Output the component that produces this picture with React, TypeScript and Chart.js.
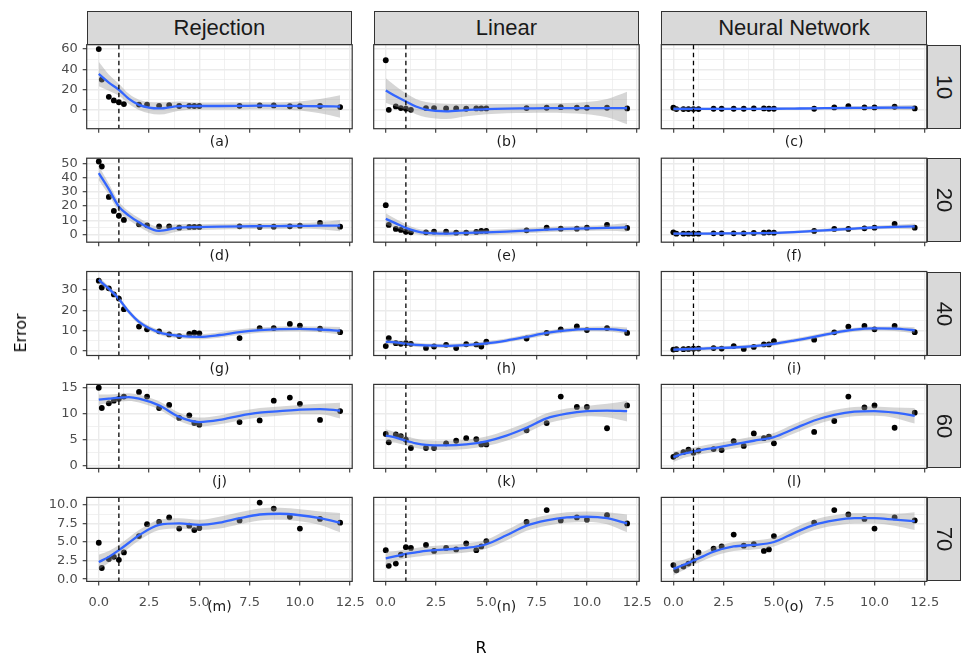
import React, { useEffect, useRef } from "react";
import { Chart, registerables } from "chart.js";
Chart.register(...registerables);

// ---------- data ----------
const columns = ["Rejection", "Linear", "Neural Network"];
const rowsLabels = ["10", "20", "40", "60", "70"];
const panelLetters = ["(a)", "(b)", "(c)", "(d)", "(e)", "(f)", "(g)", "(h)", "(i)", "(j)", "(k)", "(l)", "(m)", "(n)", "(o)"];

// R values of the observed points
const X = [0, 0.15, 0.5, 0.75, 1, 1.25, 2, 2.4, 3, 3.5, 4, 4.5, 4.75, 5, 7, 8, 8.7, 9.5, 10, 11, 12];
// R values where the smooth curve was read
const CX = [0, 0.5, 1, 1.5, 2, 3, 4, 5, 6, 7, 8, 9, 10, 11, 12];

// row 10
const yRej10 = [60, 30, 13, 9.5, 7.8, 5.9, 5.4, 5.3, 4.2, 4.9, 4, 4.2, 4, 4, 4.2, 4.6, 4.6, 3.8, 3.8, 4, 3];
const fitRej10 = [35.5, 27, 20, 11, 5.2, 1.6, 3.9, 4, 4, 4.1, 4.3, 4.2, 4, 3.8, 3.5];
const bandRej10 = [12, 8, 6, 5, 5, 6, 4.5, 3.5, 3.5, 3.5, 3.5, 3.5, 4.5, 7, 11];
const yLin10 = [49, 0.3, 3.6, 2, 1.3, 0.3, 2, 2, 1.6, 1.6, 1.3, 1.6, 1.6, 1.6, 2, 2.3, 2.9, 2.3, 2.3, 2.3, 1.6];
const fitLin10 = [19.2, 13.5, 8.5, 3.5, 0.5, -1.2, 0, 1, 1.5, 1.7, 1.9, 2, 2, 2, 2];
const bandLin10 = [12, 10, 8, 7.5, 7.5, 7.5, 6, 5, 4.5, 4.5, 4.5, 5, 6, 9, 16];
const yNN10 = [2.3, 1, 1, 1, 1, 1, 1.3, 1.3, 1.3, 1.3, 1.6, 1.6, 1.3, 1.3, 1.3, 2.6, 3.9, 2.6, 2.6, 3.3, 1.6];
const fitNN10 = [1.2, 1.2, 1.2, 1.2, 1.2, 1.2, 1.2, 1.3, 1.5, 1.7, 2, 2.2, 2.3, 2.4, 2.5];
const bandNN10 = [2, 1.5, 1.3, 1.2, 1.2, 1.2, 1.2, 1.2, 1.2, 1.3, 1.4, 1.5, 1.7, 2, 2.5];

// row 20
const yRej20 = [51.2, 47.7, 26.4, 16.6, 13.3, 10.3, 7.2, 6.5, 5.8, 5.8, 4.9, 5.4, 5.4, 5.4, 5.8, 5.4, 5.6, 5.8, 6.3, 8.2, 5.6];
const fitRej20 = [43, 31.8, 19.6, 13.3, 8.6, 2.6, 4.9, 5.3, 5.6, 5.8, 5.9, 6, 6.1, 6.3, 6.3];
const bandRej20 = [5, 4, 3.5, 3, 3, 3, 2.5, 2, 2, 2, 2, 2, 2, 2.5, 4];
const yLin20 = [20.6, 6.8, 4, 3.3, 2.1, 1.6, 1.6, 2.1, 2.1, 1.4, 1.4, 1.9, 2.6, 2.6, 3, 4.9, 4.2, 4.2, 4.9, 6.8, 4.7];
const fitLin20 = [11, 7.9, 4.7, 2.5, 1.2, 0.7, 1.2, 1.6, 2.1, 2.8, 3.5, 4, 4.4, 4.7, 5.1];
const bandLin20 = [4, 3, 2.5, 2, 2, 2, 1.8, 1.8, 1.8, 1.8, 1.8, 1.8, 1.8, 2, 3];
const yNN20 = [1.6, 0.7, 0.7, 0.7, 0.7, 0.7, 0.9, 0.9, 0.9, 0.9, 1.2, 1.4, 1.6, 1.4, 2.6, 4, 4, 4.4, 4.9, 7.5, 4.9];
const fitNN20 = [0.7, 0.7, 0.7, 0.7, 0.8, 0.9, 1, 1.2, 1.8, 2.6, 3.4, 4.2, 5, 5.4, 5.8];
const bandNN20 = [1.2, 1, 1, 1, 1, 1, 1, 1, 1, 1.1, 1.2, 1.2, 1.3, 1.5, 2];

// row 40
const yRej40 = [34.4, 31.1, 30.7, 27.7, 25.7, 20.5, 12, 10.7, 9.7, 8.2, 7.4, 8.4, 9, 8.7, 6.4, 11.3, 11.3, 13.3, 12.5, 11, 9.3];
const fitRej40 = [34.8, 30.5, 25.5, 19.2, 14.3, 9.2, 7.5, 7, 7.9, 9.3, 10.3, 10.8, 10.9, 10.6, 10];
const bandRej40 = [1.5, 1.2, 1.2, 1.2, 1.2, 1.2, 1.2, 1.2, 1.3, 1.4, 1.3, 1.3, 1.3, 1.4, 1.8];
const yLin40 = [2.5, 6.4, 3.9, 3.6, 3.9, 3.6, 1.6, 2.3, 3.1, 1.5, 3.4, 3.3, 2.3, 4.6, 6.2, 8.9, 10.7, 12.1, 10.3, 11.3, 8.9];
const fitLin40 = [4.6, 4.3, 3.6, 3.1, 2.8, 2.6, 3, 3.8, 5.2, 7, 8.9, 10.2, 10.8, 10.8, 10];
const bandLin40 = [1.3, 1.1, 1, 1, 1, 1, 1, 1, 1, 1.1, 1.1, 1.1, 1.1, 1.2, 1.6];
const yNN40 = [0.8, 1, 1, 1.1, 1.2, 1.3, 1.5, 1.3, 2.5, 1.1, 2.1, 3.3, 3.3, 4.9, 5.6, 9.2, 12, 12.3, 10.7, 12.3, 9.3];
const fitNN40 = [0.8, 0.95, 1.1, 1.3, 1.5, 1.8, 2.5, 3.6, 5.2, 7, 9, 10.5, 11.1, 11, 10.2];
const bandNN40 = [1, 0.9, 0.9, 0.9, 0.9, 0.9, 0.9, 0.9, 1, 1, 1, 1, 1, 1.1, 1.5];

// row 60
const yRej60 = [15, 11.1, 12, 12.5, 12.9, 13.3, 14.2, 13.3, 11.1, 11.7, 9.2, 9.7, 8.2, 7.9, 8.4, 8.7, 12.5, 13.1, 11.9, 8.8, 10.5];
const fitRej60 = [12.7, 12.9, 13.1, 13.2, 12.9, 11.6, 9.4, 8.4, 8.8, 9.6, 10.2, 10.5, 10.8, 10.9, 10.6];
const bandRej60 = [1, 0.8, 0.75, 0.75, 0.75, 0.8, 0.8, 0.85, 0.85, 0.9, 0.9, 0.9, 0.9, 1, 1.5];
const yLin60 = [6.1, 4.5, 6, 5.7, 5, 3.4, 3.4, 3.4, 4.3, 4.8, 5.3, 5.1, 4.1, 4.1, 6.8, 8.2, 13.3, 11.3, 11.3, 7.2, 11.6];
const fitLin60 = [5.8, 5.4, 4.8, 4.3, 4, 3.9, 4.1, 4.7, 5.8, 7.3, 9.1, 10, 10.5, 10.6, 10.5];
const bandLin60 = [1.2, 1, 0.9, 0.9, 0.9, 0.9, 0.9, 0.9, 1, 1, 1, 1, 1, 1.3, 2];
const yNN60 = [1.7, 2.1, 2.6, 3.1, 2.5, 2.9, 3.2, 3, 4.7, 3.8, 6.2, 5.3, 5.6, 4.3, 6.5, 8.6, 13.3, 11.2, 11.6, 7.3, 10.2];
const fitNN60 = [1.7, 2.3, 2.7, 3.1, 3.4, 4.1, 4.8, 5.5, 7.1, 8.7, 9.8, 10.4, 10.5, 10.2, 9.6];
const bandNN60 = [1, 0.8, 0.8, 0.8, 0.8, 0.8, 0.8, 0.8, 0.9, 0.9, 0.9, 0.9, 0.9, 1, 1.5];

// row 70
const yRej70 = [4.9, 1.5, 2.7, 3.0, 2.6, 3.6, 5.8, 7.4, 7.7, 8.3, 6.8, 7.2, 6.6, 6.9, 7.9, 10.3, 9.5, 8.4, 6.8, 8.1, 7.6];
const fitRej70 = [2.3, 3.0, 3.9, 4.9, 5.9, 7.3, 7.5, 7.3, 7.6, 8.2, 8.7, 8.8, 8.6, 8.2, 7.6];
const bandRej70 = [1, 0.8, 0.7, 0.7, 0.7, 0.7, 0.7, 0.7, 0.8, 0.8, 0.8, 0.8, 0.8, 0.9, 1.3];
const yLin70 = [3.9, 1.8, 2.1, 3.3, 4.3, 4.2, 4.6, 3.8, 4.2, 4.0, 4.8, 3.9, 4.4, 5.1, 7.7, 9.3, 7.9, 8.3, 8.0, 8.6, 7.5];
const fitLin70 = [2.8, 3.1, 3.4, 3.6, 3.8, 4.0, 4.2, 4.7, 5.9, 7.2, 7.9, 8.3, 8.4, 8.2, 7.5];
const bandLin70 = [0.9, 0.7, 0.6, 0.6, 0.6, 0.6, 0.6, 0.6, 0.7, 0.7, 0.7, 0.7, 0.7, 0.8, 1.2];
const yNN70 = [1.9, 1.2, 1.7, 2.1, 2.5, 3.6, 4.1, 4.4, 6.0, 4.5, 4.7, 3.8, 4.0, 5.8, 7.6, 9.3, 8.7, 8.1, 6.8, 8.3, 7.9];
const fitNN70 = [1.4, 1.9, 2.5, 3.1, 3.7, 4.4, 4.6, 5.0, 6.2, 7.3, 7.9, 8.2, 8.2, 8.0, 7.8];
const bandNN70 = [0.9, 0.7, 0.6, 0.6, 0.6, 0.6, 0.6, 0.6, 0.7, 0.7, 0.7, 0.7, 0.7, 0.8, 1.2];

// axis ticks
const X_MAJOR = [0, 2.5, 5, 7.5, 10, 12.5];
const X_LABELS = ["0.0", "2.5", "5.0", "7.5", "10.0", "12.5"];
const X_MINOR = [1.25, 3.75, 6.25, 8.75, 11.25];
const Y_MAJOR = [[0, 20, 40, 60], [0, 10, 20, 30, 40, 50], [0, 10, 20, 30], [0, 5, 10, 15], [0, 2.5, 5, 7.5, 10]];
const Y_LABELS = [["0", "20", "40", "60"], ["0", "10", "20", "30", "40", "50"], ["0", "10", "20", "30"], ["0", "5", "10", "15"], ["0.0", "2.5", "5.0", "7.5", "10.0"]];
const Y_MINOR = [[-10, 10, 30, 50], [-5, 5, 15, 25, 35, 45], [5, 15, 25, 35], [2.5, 7.5, 12.5], [1.25, 3.75, 6.25, 8.75]];
const VLINE_R = 1;

const PANEL_DATA = [
  [yRej10, fitRej10, bandRej10], [yLin10, fitLin10, bandLin10], [yNN10, fitNN10, bandNN10],
  [yRej20, fitRej20, bandRej20], [yLin20, fitLin20, bandLin20], [yNN20, fitNN20, bandNN20],
  [yRej40, fitRej40, bandRej40], [yLin40, fitLin40, bandLin40], [yNN40, fitNN40, bandNN40],
  [yRej60, fitRej60, bandRej60], [yLin60, fitLin60, bandLin60], [yNN60, fitNN60, bandNN60],
  [yRej70, fitRej70, bandRej70], [yLin70, fitLin70, bandLin70], [yNN70, fitNN70, bandNN70],
];

// ---------- layout ----------
const W = 962;
const H = 659;
const COL_LEFT = [86.7, 373.7, 661.3];
const PANEL_W = 265.5;
const ROW_TOP = [44.7, 158.2, 271.5, 384.4, 497.4];
const PANEL_H = 84;
const X_RANGE = [-0.6, 12.6];
const Y_RANGE = [[-18.3, 64.3], [-5.3, 53.5], [-2.1, 38.9], [-0.52, 15.64], [-0.3, 11.0]];
const STRIP_TOP = 11;
const STRIP_H = 33.7;
const RSTRIP_W = 34.5;

const has = (arr: number[], v: number) => arr.some((a) => Math.abs(a - v) < 1e-6);

const panelPlugin = {
  id: "panelDeco",
  afterDatasetsDraw(chart: any) {
    const { ctx, chartArea, scales } = chart;
    const px = scales.x.getPixelForValue(VLINE_R);
    ctx.save();
    ctx.beginPath();
    ctx.rect(chartArea.left, chartArea.top, chartArea.right - chartArea.left, chartArea.bottom - chartArea.top);
    ctx.clip();
    ctx.strokeStyle = "#000";
    ctx.lineWidth = 1.3;
    ctx.setLineDash([4.5, 3.5]);
    ctx.beginPath();
    ctx.moveTo(px, chartArea.top);
    ctx.lineTo(px, chartArea.bottom);
    ctx.stroke();
    ctx.restore();
  },
  afterDraw(chart: any) {
    const { ctx, chartArea } = chart;
    ctx.save();
    ctx.strokeStyle = "#333333";
    ctx.lineWidth = 1.2;
    ctx.strokeRect(chartArea.left, chartArea.top, chartArea.right - chartArea.left, chartArea.bottom - chartArea.top);
    ctx.restore();
  },
};

function Panel({ index }: { index: number }) {
  const ref = useRef<HTMLCanvasElement>(null);
  useEffect(() => {
    const row = Math.floor(index / 3);
    const col = index % 3;
    const [ys, fit, band] = PANEL_DATA[index];
    const showX = row === 4;
    const showY = col === 0;
    const yW = showY ? 42 : 0;
    const xH = showX ? 32 : 8;
    const yMaj = Y_MAJOR[row];
    const yMin = Y_MINOR[row];
    const yLab = Y_LABELS[row];

    const chart = new Chart(ref.current as HTMLCanvasElement, {
      type: "line",
      data: {
        datasets: [
          {
            data: CX.map((x, i) => ({ x, y: fit[i] })),
            borderColor: "#3366FF",
            borderWidth: 2.3,
            pointRadius: 0,
            cubicInterpolationMode: "monotone",
            fill: false,
            order: 0,
          },
          {
            data: CX.map((x, i) => ({ x, y: fit[i] + band[i] })),
            borderWidth: 0,
            borderColor: "rgba(0,0,0,0)",
            pointRadius: 0,
            cubicInterpolationMode: "monotone",
            backgroundColor: "rgba(153,153,153,0.4)",
            fill: 2,
            order: 1,
          },
          {
            data: CX.map((x, i) => ({ x, y: fit[i] - band[i] })),
            borderWidth: 0,
            borderColor: "rgba(0,0,0,0)",
            pointRadius: 0,
            cubicInterpolationMode: "monotone",
            fill: false,
            order: 2,
          },
          {
            data: X.map((x, i) => ({ x, y: ys[i] })),
            showLine: false,
            pointRadius: 2.9,
            pointBackgroundColor: "#000",
            pointBorderWidth: 0,
            borderColor: "#000",
            order: 3,
          },
        ],
      } as any,
      options: {
        animation: false,
        responsive: false,
        devicePixelRatio: 1,
        events: [],
        layout: {
          padding: {
            left: COL_LEFT[col] - yW,
            top: ROW_TOP[row],
            right: W - (COL_LEFT[col] + PANEL_W),
            bottom: H - (ROW_TOP[row] + PANEL_H) - xH,
          },
        },
        plugins: { legend: { display: false }, tooltip: { enabled: false }, title: { display: false } },
        scales: {
          x: {
            type: "linear",
            min: X_RANGE[0],
            max: X_RANGE[1],
            afterBuildTicks: (s: any) => {
              s.ticks = [...X_MAJOR, ...X_MINOR].sort((a, b) => a - b).map((v) => ({ value: v }));
            },
            afterFit: (s: any) => {
              s.height = xH;
            },
            ticks: {
              display: showX,
              autoSkip: false,
              maxRotation: 0,
              minRotation: 0,
              padding: 9,
              color: "#4D4D4D",
              font: { family: "DejaVu Sans", size: 13 },
              callback: (v: any) => {
                const i = X_MAJOR.findIndex((m) => Math.abs(m - v) < 1e-6);
                return i >= 0 ? X_LABELS[i] : "";
              },
            },
            grid: {
              color: "#EBEBEB",
              lineWidth: (c: any) => (c.tick && has(X_MAJOR, c.tick.value) ? 1.4 : 0.7),
              drawTicks: true,
              tickLength: 4,
              tickWidth: 1.1,
              tickColor: (c: any) => (c.tick && has(X_MAJOR, c.tick.value) ? "#333333" : "rgba(0,0,0,0)"),
            },
            border: { display: false },
          },
          y: {
            type: "linear",
            min: Y_RANGE[row][0],
            max: Y_RANGE[row][1],
            afterBuildTicks: (s: any) => {
              s.ticks = [...yMaj, ...yMin].sort((a, b) => a - b).map((v) => ({ value: v }));
            },
            afterFit: (s: any) => {
              s.width = yW;
            },
            ticks: {
              display: showY,
              autoSkip: false,
              padding: 5,
              color: "#4D4D4D",
              font: { family: "DejaVu Sans", size: 13 },
              callback: (v: any) => {
                const i = yMaj.findIndex((m) => Math.abs(m - v) < 1e-6);
                return i >= 0 ? yLab[i] : "";
              },
            },
            grid: {
              color: "#EBEBEB",
              lineWidth: (c: any) => (c.tick && has(yMaj, c.tick.value) ? 1.4 : 0.7),
              drawTicks: showY,
              tickLength: 4,
              tickWidth: 1.1,
              tickColor: (c: any) => (c.tick && has(yMaj, c.tick.value) ? "#333333" : "rgba(0,0,0,0)"),
            },
            border: { display: false },
          },
        },
      } as any,
      plugins: [panelPlugin],
    });
    return () => chart.destroy();
  }, [index]);
  return (
    <canvas
      ref={ref}
      width={W}
      height={H}
      style={{ position: "absolute", left: 0, top: 0, width: W, height: H }}
    />
  );
}

const centered = (cx: number, cy: number, extra: React.CSSProperties = {}): React.CSSProperties => ({
  position: "absolute",
  left: cx,
  top: cy,
  transform: "translate(-50%, -50%)",
  whiteSpace: "nowrap",
  lineHeight: 1,
  ...extra,
});

export default function App() {
  return (
    <div style={{ position: "absolute", left: 0, top: 0, width: W, height: H, background: "#fff", overflow: "hidden" }}>
      {PANEL_DATA.map((_, i) => (
        <Panel key={i} index={i} />
      ))}
      {columns.map((c, i) => (
        <div
          key={"cs" + i}
          style={{
            position: "absolute",
            left: COL_LEFT[i],
            top: STRIP_TOP,
            width: PANEL_W,
            height: STRIP_H,
            boxSizing: "border-box",
            border: "1.2px solid #333333",
            background: "#D9D9D9",
            display: "flex",
            alignItems: "center",
            justifyContent: "center",
            fontFamily: "'Liberation Sans', Arial, sans-serif",
            fontSize: 22,
            color: "#1A1A1A",
          }}
        >
          {c}
        </div>
      ))}
      {rowsLabels.map((r, i) => (
        <div
          key={"rs" + i}
          style={{
            position: "absolute",
            left: COL_LEFT[2] + PANEL_W,
            top: ROW_TOP[i],
            width: RSTRIP_W,
            height: PANEL_H,
            boxSizing: "border-box",
            border: "1.2px solid #333333",
            background: "#D9D9D9",
            display: "flex",
            alignItems: "center",
            justifyContent: "center",
            fontFamily: "'Liberation Sans', Arial, sans-serif",
            fontSize: 22,
            color: "#1A1A1A",
          }}
        >
          <span style={{ display: "inline-block", transform: "rotate(90deg)", lineHeight: 1 }}>{r}</span>
        </div>
      ))}
      {panelLetters.map((l, i) => {
        const row = Math.floor(i / 3);
        const col = i % 3;
        const cy = row === 4 ? 606 : ROW_TOP[row] + PANEL_H + 12.7;
        return (
          <div key={"pl" + i} style={centered(COL_LEFT[col] + PANEL_W / 2, cy, { fontFamily: "'DejaVu Sans'", fontSize: 14, color: "#1A1A1A" })}>
            {l}
          </div>
        );
      })}
      <div style={centered(21, 333, { fontFamily: "'DejaVu Sans'", fontSize: 16, color: "#000", transform: "translate(-50%, -50%) rotate(-90deg)" })}>
        Error
      </div>
      <div style={centered(481, 648, { fontFamily: "'DejaVu Sans'", fontSize: 16, color: "#000" })}>R</div>
    </div>
  );
}
